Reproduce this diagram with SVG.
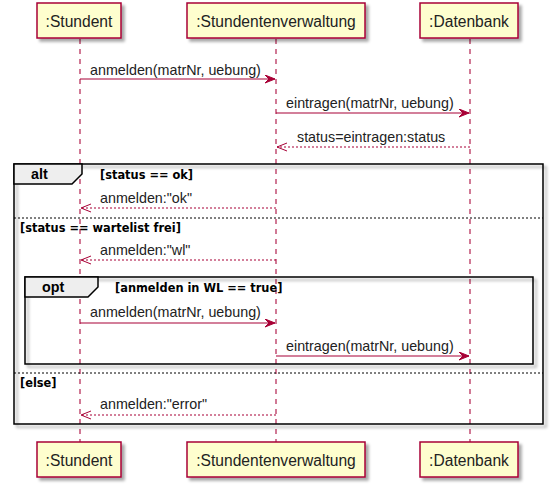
<svg xmlns="http://www.w3.org/2000/svg" width="553" height="486" viewBox="0 0 553 486">
<defs>
<filter id="sh" x="-10%" y="-10%" width="130%" height="140%">
<feGaussianBlur in="SourceAlpha" stdDeviation="1.5"/>
<feOffset dx="3" dy="3" result="b"/>
<feComponentTransfer><feFuncA type="linear" slope="0.35"/></feComponentTransfer>
<feMerge><feMergeNode/><feMergeNode in="SourceGraphic"/></feMerge>
</filter>
<marker id="fa" markerWidth="12" markerHeight="10" refX="10" refY="4" orient="auto" markerUnits="userSpaceOnUse">
<polygon points="0,0 10,4 0,8 4,4" fill="#A80036" stroke="#A80036" stroke-width="1"/>
</marker>
<marker id="oa" markerWidth="12" markerHeight="10" refX="11" refY="5" orient="auto" markerUnits="userSpaceOnUse">
<polyline points="1,1 11,5 1,9" fill="none" stroke="#A80036" stroke-width="1"/>
</marker>
</defs>
<style>
.box{fill:#FEFECE;stroke:#A80036;stroke-width:1.5}
.pt{font-family:"Liberation Sans",Arial,sans-serif;font-size:15.6px;fill:#222;text-anchor:middle}
.life{stroke:#A80036;stroke-width:1.5;stroke-opacity:0.7;stroke-dasharray:5,5}
.msg{stroke:#A80036;stroke-width:1.2;fill:none}
.ret{stroke:#A80036;stroke-width:1.2;fill:none;stroke-dasharray:2,2}
.mt{font-family:"Liberation Sans",Arial,sans-serif;font-size:14.3px;fill:#222}
.frame{fill:none;stroke:#000;stroke-width:1.5}
.tab{fill:#EEEEEE;stroke:#000;stroke-width:1.5}
.tl{font-family:"Liberation Sans",Arial,sans-serif;font-size:14.3px;font-weight:bold;fill:#000}
.gd{font-family:"DejaVu Sans",Verdana,sans-serif;font-size:11.4px;font-weight:bold;fill:#000}
.sep{stroke:#000;stroke-width:1;stroke-dasharray:2,2}
</style>
<g id="lifelines">
<line class="life" x1="80" y1="39" x2="80" y2="442"/>
<line class="life" x1="276" y1="39" x2="276" y2="442"/>
<line class="life" x1="470" y1="39" x2="470" y2="442"/>
</g>
<g id="frame-alt">
<rect class="frame" x="14" y="164" width="529" height="260" filter="url(#sh)"/>
<polygon class="tab" points="14,164 82,164 82,174 72,184 14,184"/>
<text class="tl" x="31" y="179">alt</text>
<text class="gd" x="100" y="179">[status == ok]</text>
<line class="sep" x1="14" y1="218" x2="543" y2="218"/>
<text class="gd" x="20" y="232">[status == wartelist frei]</text>
<line class="sep" x1="14" y1="373" x2="543" y2="373"/>
<text class="gd" x="20" y="387">[else]</text>
</g>
<g id="frame-opt">
<rect class="frame" x="25" y="277" width="508" height="87" filter="url(#sh)"/>
<polygon class="tab" points="25,277 98,277 98,287 88,297 25,297"/>
<text class="tl" x="42" y="292">opt</text>
<text class="gd" x="115" y="292">[anmelden in WL == true]</text>
</g>
<g id="connectors">
<line class="msg" x1="80" y1="79" x2="275" y2="79" marker-end="url(#fa)"/>
<text class="mt" x="90" y="75">anmelden(matrNr, uebung)</text>
<line class="msg" x1="276" y1="113" x2="469" y2="113" marker-end="url(#fa)"/>
<text class="mt" x="286" y="108">eintragen(matrNr, uebung)</text>
<line class="ret" x1="470" y1="147" x2="277" y2="147" marker-end="url(#oa)"/>
<text class="mt" x="297" y="142">status=eintragen:status</text>
<line class="ret" x1="276" y1="208" x2="81" y2="208" marker-end="url(#oa)"/>
<text class="mt" x="100" y="203">anmelden:"ok"</text>
<line class="ret" x1="276" y1="260" x2="81" y2="260" marker-end="url(#oa)"/>
<text class="mt" x="100" y="255">anmelden:"wl"</text>
<line class="msg" x1="80" y1="323" x2="275" y2="323" marker-end="url(#fa)"/>
<text class="mt" x="90" y="317">anmelden(matrNr, uebung)</text>
<line class="msg" x1="276" y1="356" x2="469" y2="356" marker-end="url(#fa)"/>
<text class="mt" x="286" y="351">eintragen(matrNr, uebung)</text>
<line class="ret" x1="276" y1="415" x2="81" y2="415" marker-end="url(#oa)"/>
<text class="mt" x="100" y="409">anmelden:"error"</text>
</g>
<g id="p-student">
<rect class="box" x="37" y="3" width="84" height="35" filter="url(#sh)"/>
<text class="pt" x="79" y="27">:Stundent</text>
<rect class="box" x="37" y="442" width="84" height="35" filter="url(#sh)"/>
<text class="pt" x="79" y="466">:Stundent</text>
</g>
<g id="p-verwaltung">
<rect class="box" x="187" y="3" width="178" height="35" filter="url(#sh)"/>
<text class="pt" x="276" y="27">:Stundentenverwaltung</text>
<rect class="box" x="187" y="442" width="178" height="35" filter="url(#sh)"/>
<text class="pt" x="276" y="466">:Stundentenverwaltung</text>
</g>
<g id="p-datenbank">
<rect class="box" x="420" y="3" width="98" height="35" filter="url(#sh)"/>
<text class="pt" x="469" y="27">:Datenbank</text>
<rect class="box" x="420" y="442" width="98" height="35" filter="url(#sh)"/>
<text class="pt" x="469" y="466">:Datenbank</text>
</g>
</svg>
